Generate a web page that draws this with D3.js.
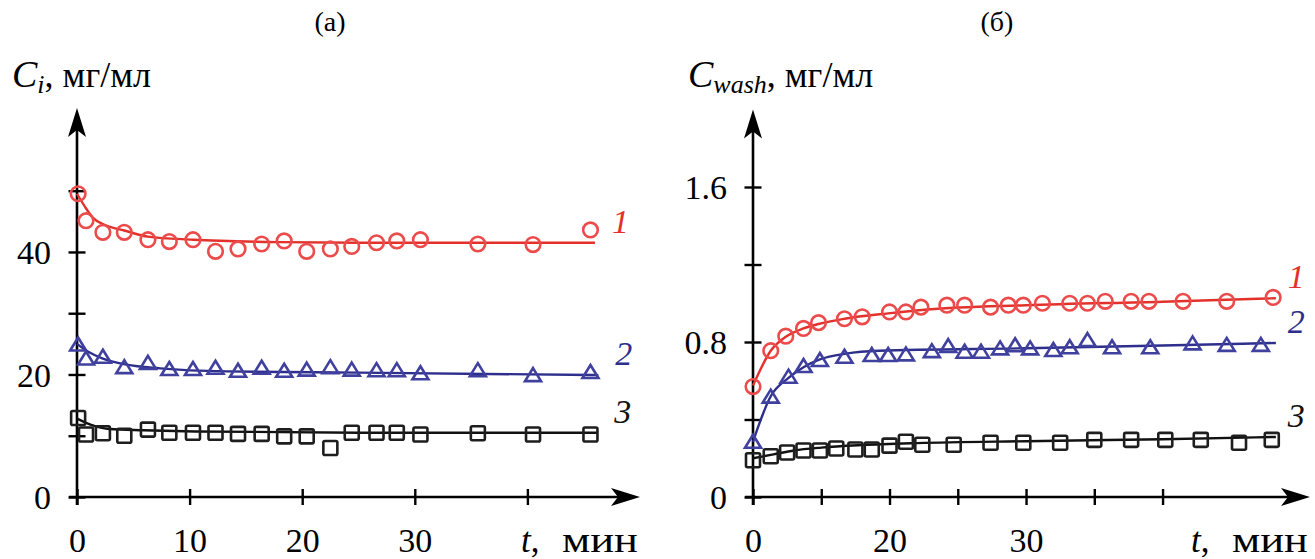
<!DOCTYPE html>
<html>
<head>
<meta charset="utf-8">
<script src="https://cdn.jsdelivr.net/npm/d3@7"></script>
<style>
  body { margin: 0; background: #fff; }
  svg text { font-family: "Liberation Serif", "Times New Roman", serif; fill: #000; }
</style>
</head>
<body>
<svg id="chart" width="1315" height="559"></svg>
<script>
// ---------- panel (а): C_i, мг/мл vs t, мин ----------
var timeA  = [0.1, 0.8, 2.3, 4.2, 6.3, 8.2, 10.3, 12.3, 14.3, 16.4, 18.4, 20.4, 22.5, 24.4, 26.6, 28.4, 30.5, 35.6, 40.5, 45.6];
var concA1 = [49.5, 45.1, 43.2, 43.2, 42.0, 41.7, 42.0, 40.1, 40.5, 41.3, 41.8, 40.1, 40.5, 40.9, 41.5, 41.8, 42.0, 41.3, 41.2, 43.6];
var concA2 = [24.9, 22.6, 22.9, 21.2, 21.9, 20.9, 20.9, 21.1, 20.6, 21.1, 20.6, 20.8, 21.2, 20.8, 20.7, 20.7, 20.2, 20.7, 19.9, 20.4];
var concA3 = [12.9, 10.2, 10.4, 10.0, 11.0, 10.5, 10.5, 10.5, 10.3, 10.3, 9.9, 9.9, 8.0, 10.5, 10.5, 10.5, 10.2, 10.4, 10.2, 10.2];

// fitted curves
var fitTimeA1 = [0, 0.7, 1.4, 2.5, 4.2, 6.3, 10.3, 18, 25, 46];
var fitA1     = [49.5, 47.4, 45.6, 44.4, 43.5, 42.5, 42.0, 41.6, 41.5, 41.5];
var fitTimeA2 = [0, 1, 2.3, 4.4, 7.4, 13.3, 25, 46.3];
var fitA2     = [25.0, 23.7, 22.6, 21.6, 21.0, 20.5, 20.3, 19.9];
var fitTimeA3 = [0, 1.4, 2.9, 5.9, 10.5, 25, 46.2];
var fitA3     = [12.8, 11.7, 11.1, 10.9, 10.7, 10.5, 10.5];

var xTicksA = [0, 10, 20, 30, 40];
var xTickLabelsA = ["0", "10", "20", "30", ""];
var yTicksA = [0, 10, 20, 30, 40, 50];
var yTickLabelsA = ["0", "", "20", "", "40", ""];

// ---------- panel (б): C_wash, мг/мл vs t, мин ----------
var timeB1 = [0, 1.3, 2.4, 3.7, 4.8, 6.7, 8.0, 10.0, 11.2, 12.3, 14.2, 15.5, 17.4, 18.7, 19.8, 21.2, 23.2, 24.5, 25.8, 27.7, 29.0, 31.5, 34.7, 38.1];
var concB1 = [0.57, 0.755, 0.83, 0.87, 0.9, 0.92, 0.93, 0.955, 0.955, 0.98, 0.99, 0.99, 0.98, 0.99, 0.99, 1.0, 1.0, 1.0, 1.01, 1.01, 1.01, 1.01, 1.01, 1.03];
var timeB2 = [0, 1.3, 2.6, 3.7, 4.9, 6.7, 8.7, 9.9, 11.2, 13.1, 14.3, 15.5, 16.7, 18.1, 19.2, 20.3, 22.0, 23.2, 24.5, 26.3, 29.1, 32.2, 34.7, 37.2];
var concB2 = [0.285, 0.518, 0.621, 0.676, 0.707, 0.724, 0.733, 0.733, 0.736, 0.753, 0.779, 0.750, 0.750, 0.767, 0.783, 0.767, 0.759, 0.773, 0.810, 0.773, 0.773, 0.793, 0.785, 0.785];
var timeB3 = [0, 1.3, 2.5, 3.7, 4.9, 6.1, 7.5, 8.7, 10.0, 11.2, 12.4, 14.7, 17.4, 19.8, 22.5, 25.0, 27.7, 30.2, 32.8, 35.6, 38.0];
var concB3 = [0.19, 0.21, 0.23, 0.24, 0.24, 0.25, 0.245, 0.245, 0.265, 0.285, 0.27, 0.27, 0.28, 0.28, 0.28, 0.295, 0.295, 0.295, 0.295, 0.28, 0.295];

var fitTimeB1 = [0, 1.3, 2.4, 3.7, 4.8, 6.7, 9.9, 12.8, 20, 30, 38.3];
var fitB1     = [0.575, 0.755, 0.827, 0.87, 0.893, 0.92, 0.948, 0.968, 0.99, 1.008, 1.026];
var fitTimeB2 = [0, 1.3, 2.6, 3.7, 4.9, 6.8, 9.2, 20, 30, 38.3];
var fitB2     = [0.285, 0.52, 0.615, 0.67, 0.71, 0.74, 0.755, 0.768, 0.782, 0.795];
var fitTimeB3 = [0, 1.5, 3, 5, 8, 12, 20, 30, 38.3];
var fitB3     = [0.2, 0.22, 0.24, 0.255, 0.268, 0.278, 0.288, 0.298, 0.31];

var xTicksB = [0, 5, 10, 15, 20, 25, 30];
var xTickLabelsB = ["0", "", "20", "", "30", "", ""];
var yTicksB = [0, 0.4, 0.8, 1.2, 1.6];
var yTickLabelsB = ["0", "", "0.8", "", "1.6"];

var seriesNames = ["1", "2", "3"];
var markerColors = ["#ec4b4b", "#40409f", "#1e1e1e"];
var lineColors = ["#e3302b", "#2e2e8c", "#111111"];

var serif = '"Liberation Serif", "Times New Roman", serif';
var svg = d3.select("#chart");

function zip(ts, vs){
    return ts.map(function(t, i){ return {t: t, v: vs[i]}; });
}

function drawmarker(g, kind, color){
    if(kind == "circle"){
        g.append("circle").attr("r", 7.3)
            .style("fill", "none").style("stroke", color).style("stroke-width", 2.6);
    }
    else if(kind == "triangle"){
        // triangle centred on its bounding box
        g.append("path").attr("d", "M0,-7L8,6L-8,6Z")
            .style("fill", "none").style("stroke", color).style("stroke-width", 2.6)
            .style("stroke-linejoin", "miter");
    }
    else{
        g.append("rect").attr("x", -7).attr("y", -7).attr("width", 14).attr("height", 14)
            .attr("rx", 1.5)
            .style("fill", "none").style("stroke", color).style("stroke-width", 2.6);
    }
}

function drawpanel(cfg){
    var x = d3.scaleLinear().domain(cfg.xdomain).range(cfg.xrange);
    var y = d3.scaleLinear().domain(cfg.ydomain).range(cfg.yrange);
    var g = svg.append("g");

    var x0 = x(0), y0 = y(0);
    var xEnd = cfg.xrange[1], yTop = cfg.yrange[1];

    // x axis (ticks crossing the line)
    var xa = g.append("g")
        .attr("transform", "translate(0," + y0 + ")")
        .call(d3.axisBottom(x).tickValues(cfg.xticks)
              .tickFormat(function(d, i){ return cfg.xlabels[i]; }).tickSize(8));
    xa.select(".domain").remove();
    xa.selectAll(".tick line").attr("y1", -8).attr("y2", 8)
        .style("stroke", "#000").style("stroke-width", 2.4);
    xa.selectAll(".tick text").attr("y", 55).attr("dy", null)
        .style("font-family", serif).style("font-size", "34px");

    // y axis
    var ya = g.append("g")
        .attr("transform", "translate(" + x0 + ",0)")
        .call(d3.axisLeft(y).tickValues(cfg.yticks)
              .tickFormat(function(d, i){ return cfg.ylabels[i]; }).tickSize(8));
    ya.select(".domain").remove();
    ya.selectAll(".tick line").attr("x1", -8.5).attr("x2", 8.5)
        .style("stroke", "#000").style("stroke-width", 2.4);
    ya.selectAll(".tick text").attr("x", -26).attr("dy", "0.35em")
        .style("font-family", serif).style("font-size", "34px");

    // axis lines with arrows
    g.append("line").attr("x1", x0 - 8).attr("x2", xEnd - 18)
        .attr("y1", y0).attr("y2", y0)
        .style("stroke", "#000").style("stroke-width", 2.6);
    g.append("line").attr("x1", x0).attr("x2", x0)
        .attr("y1", y0 + 8).attr("y2", yTop + 18)
        .style("stroke", "#000").style("stroke-width", 2.6);
    g.append("path")
        .attr("d", "M" + xEnd + "," + y0 + "L" + (xEnd - 29) + "," + (y0 - 9) +
                   "L" + (xEnd - 22) + "," + y0 + "L" + (xEnd - 29) + "," + (y0 + 9) + "Z")
        .style("fill", "#000");
    g.append("path")
        .attr("d", "M" + x0 + "," + yTop + "L" + (x0 - 9) + "," + (yTop + 29) +
                   "L" + x0 + "," + (yTop + 22) + "L" + (x0 + 9) + "," + (yTop + 29) + "Z")
        .style("fill", "#000");

    var valueline = d3.line()
        .curve(d3.curveMonotoneX)
        .x(function(d){ return x(d.t); })
        .y(function(d){ return y(d.v); });

    cfg.series.forEach(function(s, k){
        // fitted curve
        g.append("path")
            .data([zip(s.fitt, s.fitv)])
            .attr("d", valueline)
            .style("fill", "none")
            .style("stroke", lineColors[k])
            .style("stroke-width", 2.4);

        // measured points
        g.selectAll(".pt" + k)
            .data(zip(s.t, s.v))
            .enter().append("g")
            .attr("class", "pt" + k)
            .attr("transform", function(d){ return "translate(" + x(d.t) + "," + y(d.v) + ")"; })
            .each(function(){ drawmarker(d3.select(this), s.marker, markerColors[k]); });

        // curve number next to the end of the fit
        var last = s.fitt.length - 1;
        g.append("text")
            .attr("x", x(s.fitt[last]) + cfg.numdx)
            .attr("y", y(s.fitv[last]) - 10)
            .style("font-size", "34px")
            .style("font-style", "italic")
            .style("fill", lineColors[k])
            .text(seriesNames[k]);
    });

    // panel title
    g.append("text")
        .attr("x", cfg.titlex).attr("y", 31)
        .attr("text-anchor", "middle")
        .style("font-size", "28px")
        .text(cfg.title);

    // y axis title
    var yt = g.append("text")
        .attr("x", cfg.ytitlex).attr("y", 87)
        .style("font-size", "36px");
    yt.append("tspan").style("font-style", "italic").style("font-size", "38px").text("C");
    yt.append("tspan").style("font-style", "italic").style("font-size", "26px")
        .attr("dy", 6).text(cfg.sub);
    yt.append("tspan").attr("dy", -6).text(", мг/мл");

    // x axis title: "t," then a slightly wide "мин"
    g.append("text")
        .attr("x", xEnd - 119).attr("y", 552)
        .style("font-size", "35px")
        .html('<tspan style="font-style:italic">t</tspan>,');
    g.append("text")
        .attr("x", xEnd - 78).attr("y", 552)
        .attr("textLength", 76)
        .attr("lengthAdjust", "spacingAndGlyphs")
        .style("font-size", "35px")
        .text("мин");
}

drawpanel({
    title: "(а)", titlex: 330, sub: "i", ytitlex: 12, numdx: 17,
    xdomain: [0, 50], xrange: [77, 640],
    ydomain: [0, 63.5], yrange: [497, 108],
    xticks: xTicksA, xlabels: xTickLabelsA,
    yticks: yTicksA, ylabels: yTickLabelsA,
    series: [
        {t: timeA, v: concA1, fitt: fitTimeA1, fitv: fitA1, marker: "circle"},
        {t: timeA, v: concA2, fitt: fitTimeA2, fitv: fitA2, marker: "triangle"},
        {t: timeA, v: concA3, fitt: fitTimeA3, fitv: fitA3, marker: "square"}
    ]
});

drawpanel({
    title: "(б)", titlex: 997, sub: "wash", ytitlex: 688, numdx: 12,
    xdomain: [0, 40.8], xrange: [753, 1310],
    ydomain: [0, 2.0], yrange: [497, 109.5],
    xticks: xTicksB, xlabels: xTickLabelsB,
    yticks: yTicksB, ylabels: yTickLabelsB,
    series: [
        {t: timeB1, v: concB1, fitt: fitTimeB1, fitv: fitB1, marker: "circle"},
        {t: timeB2, v: concB2, fitt: fitTimeB2, fitv: fitB2, marker: "triangle"},
        {t: timeB3, v: concB3, fitt: fitTimeB3, fitv: fitB3, marker: "square"}
    ]
});
</script>
</body>
</html>
